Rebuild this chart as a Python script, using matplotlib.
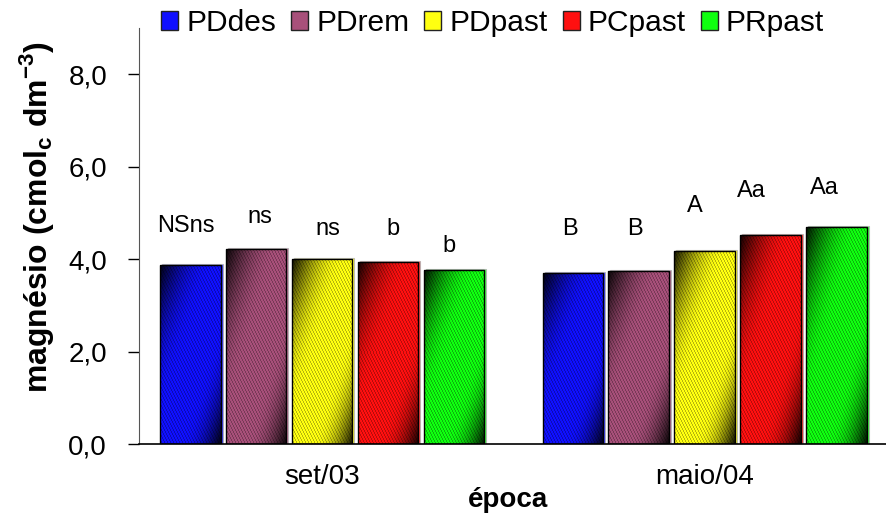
import matplotlib
matplotlib.use("Agg")
import matplotlib.pyplot as plt
import matplotlib.transforms as mtransforms
from matplotlib.colors import to_rgb
from matplotlib.patches import Rectangle, Patch
import numpy as np

plt.rcParams["font.family"] = ["Liberation Sans", "DejaVu Sans"]
plt.rcParams["mathtext.fontset"] = "custom"
plt.rcParams["mathtext.rm"] = "Liberation Sans:bold"
plt.rcParams["mathtext.bf"] = "Liberation Sans:bold"

# Data
epocas = ["set/03", "maio/04"]
tratamentos = ["PDdes", "PDrem", "PDpast", "PCpast", "PRpast"]
magnesio = {
    "set/03": [3.87, 4.22, 4.00, 3.94, 3.76],
    "maio/04": [3.70, 3.74, 4.19, 4.52, 4.69],
}
letras = {
    "set/03": ["NSns", "ns", "ns", "b", "b"],
    "maio/04": ["B", "B", "A", "Aa", "Aa"],
}
letras_y = {
    "set/03": [4.59, 4.78, 4.53, 4.53, 4.15],
    "maio/04": [4.53, 4.53, 5.03, 5.35, 5.41],
}
y_ticks = [0, 2, 4, 6, 8]
y_ticklabels = ["0,0", "2,0", "4,0", "6,0", "8,0"]

colors = ["#1010ff", "#a8507a", "#ffff10", "#ff1010", "#10ff10"]

fig = plt.figure(figsize=(8.86, 5.14), dpi=100)
ax = fig.add_axes([0.1569, 0.136, 0.8431, 0.809])

step = 0.1723
width = 0.159
ax.set_xlim(-0.478, 1.473)
ax.set_ylim(0, 9)


def gradient_bar(ax, x0, h, w, color):
    # pixel size of the bar so stripes come out crisp
    p0 = ax.transData.transform((x0, 0))
    p1 = ax.transData.transform((x0 + w, h))
    nx = max(int(round(p1[0] - p0[0])), 2)
    ny = max(int(round(p1[1] - p0[1])), 2)
    ix, iy = np.meshgrid(np.arange(nx), np.arange(ny))
    u = ix / (nx - 1)
    v = iy / (ny - 1)
    d = u + v
    f = np.clip(np.minimum(d / 0.85, (2 - d) / 0.65), 0, 1)
    f = np.sin(f * np.pi / 2)
    shade = 0.08 + 0.92 * f
    stripes = ((ix - iy // 2) % 3) == 0
    shade = shade * np.where(stripes, 0.72, 1.0)
    rgb = np.array(to_rgb(color))[None, None, :] * shade[:, :, None]
    # shadow offset a bit to the right and up
    shadow_tr = mtransforms.offset_copy(ax.transData, fig=ax.figure, x=2, y=1, units="dots")
    ax.add_patch(Rectangle((x0, 0), w, h, facecolor=color, edgecolor="#b0b0b0",
                           linewidth=0.8, alpha=0.8, transform=shadow_tr, zorder=1))
    im = ax.imshow(np.clip(rgb, 0, 1), extent=(x0, x0 + w, 0, h), origin="upper",
                   aspect="auto", interpolation="nearest", zorder=2)
    rect = Rectangle((x0, 0), w, h, facecolor="none", edgecolor="black",
                     linewidth=1.0, zorder=3)
    ax.add_patch(rect)
    im.set_clip_path(rect)


label_dx = {
    "set/03": [-0.012, 0.009, 0.016, 0.014, -0.012],
    "maio/04": [-0.007, -0.010, -0.027, -0.051, -0.032],
}

for g, ep in enumerate(epocas):
    for i, val in enumerate(magnesio[ep]):
        xc = g + (i - 2) * step
        gradient_bar(ax, xc - width / 2, val, width, colors[i])
        ax.text(xc + label_dx[ep][i], letras_y[ep][i], letras[ep][i],
                ha="center", va="baseline", fontsize=17, zorder=4)

ax.set_xlim(-0.478, 1.473)
ax.set_ylim(0, 9)

ax.set_yticks(y_ticks)
ax.set_yticklabels(y_ticklabels, fontsize=20)
ax.tick_params(axis="y", direction="out", length=8, width=1, pad=15)
ax.set_xticks([0, 1])
ax.set_xticklabels(epocas, fontsize=20)
ax.tick_params(axis="x", length=0, pad=14)

ax.spines["top"].set_visible(False)
ax.spines["right"].set_visible(False)
ax.spines["left"].set_color("#555555")
ax.spines["bottom"].set_linewidth(1.2)

fig.text(0.573, 0.028, "época", ha="center", va="center", fontsize=20, fontweight="bold")
fig.text(0.041, 1 - 217 / 514, r"magnésio (cmol$_\mathrm{c}$ dm$^{\mathrm{-3}}$)",
         rotation=90, ha="center", va="center", fontsize=23, fontweight="bold")

handles = [Patch(facecolor=c, edgecolor="#222222", linewidth=1.0) for c in colors]
fig.legend(handles, tratamentos, loc="center", bbox_to_anchor=(0.556, 0.955), ncol=5,
           frameon=False, fontsize=21.5, handlelength=0.57, handleheight=0.6,
           handletextpad=0.27, columnspacing=0.5, borderaxespad=0)

fig.savefig("out.png", dpi=100)
